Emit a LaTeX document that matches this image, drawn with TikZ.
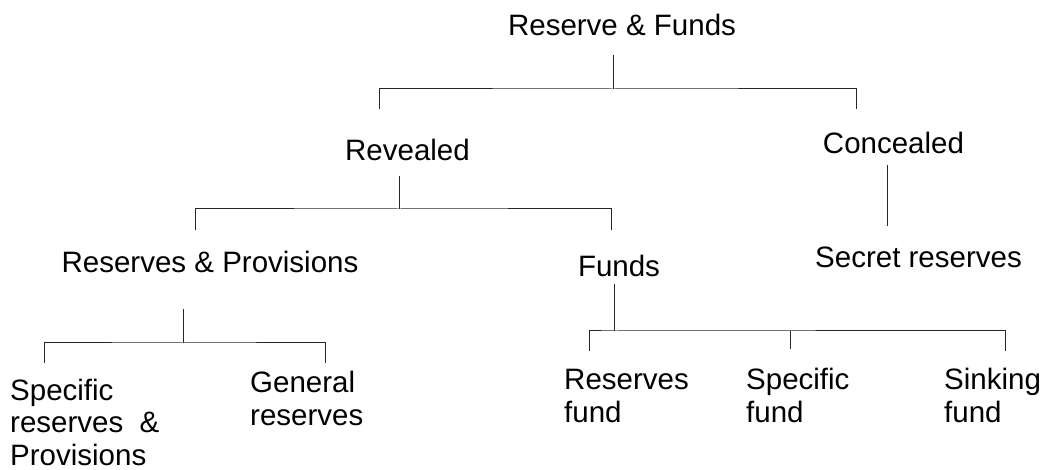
\documentclass[tikz,border=0pt]{standalone}
\usepackage{fontspec}
\setmainfont{Liberation Sans}
\begin{document}
\begin{tikzpicture}[x=1pt, y=-1pt,
    lbl/.style={inner sep=0pt, anchor=base, font=\fontsize{29.5}{32.5}\selectfont},
    leaf/.style={lbl, align=left, anchor=base west},
    wire/.style={line width=1pt, black!85}]
    \useasboundingbox (0,0) rectangle (1045,470);

    % Headings
    \node[lbl] (rf) at (622,36) {Reserve \& Funds};
    \node[lbl] (rev) at (407.5,161) {Revealed};
    \node[lbl] (con) at (893.5,154) {Concealed};
    \node[lbl] (rp) at (210,273) {Reserves \& Provisions};
    \node[lbl] (fu) at (619,277) {Funds};
    \node[lbl] (sec) at (918.5,268) {Secret reserves};

    % Leaves (base = last line)
    \node[leaf] (spr) at (10,465.5) {Specific\\reserves~~\&\\Provisions};
    \node[leaf] (gen) at (250,425.5) {General\\reserves};
    \node[leaf] (resf) at (564,422.5) {Reserves\\fund};
    \node[leaf] (spf) at (746,422.5) {Specific\\fund};
    \node[leaf] (sif) at (944,422.5) {Sinking\\fund};

    % Connector points
    \coordinate (rf-top) at (613,55);
    \coordinate (rf-bus) at (613,89);
    \coordinate (rev-in) at (379,109);
    \coordinate (con-in) at (856,109);
    \coordinate (rev-top) at (399,176);
    \coordinate (rev-bus) at (399,209);
    \coordinate (rp-in) at (195,230);
    \coordinate (fu-in) at (611,230);
    \coordinate (con-top) at (887,165);
    \coordinate (sec-in) at (887,226);
    \coordinate (rp-top) at (183,309);
    \coordinate (rp-bus) at (183,343);
    \coordinate (spr-in) at (44,363);
    \coordinate (gen-in) at (325,363);
    \coordinate (fu-top) at (614,284);
    \coordinate (fu-bus) at (614,331);
    \coordinate (resf-in) at (589,351);
    \coordinate (spf-in) at (790,349);
    \coordinate (sif-in) at (1005,351);

    % Connectors
    \draw[wire] (rf-top) -- (rf-bus);
    \draw[wire] (rev-in) |- (rf-bus) -| (con-in);
    \draw[wire] (rev-top) -- (rev-bus);
    \draw[wire] (rp-in) |- (rev-bus) -| (fu-in);
    \draw[wire] (con-top) -- (sec-in);
    \draw[wire] (rp-top) -- (rp-bus);
    \draw[wire] (spr-in) |- (rp-bus) -| (gen-in);
    \draw[wire] (fu-top) -- (fu-bus);
    \draw[wire] (resf-in) |- (fu-bus) -| (sif-in);
    \draw[wire] (spf-in) -- (spf-in |- fu-bus);
\end{tikzpicture}
\end{document}
